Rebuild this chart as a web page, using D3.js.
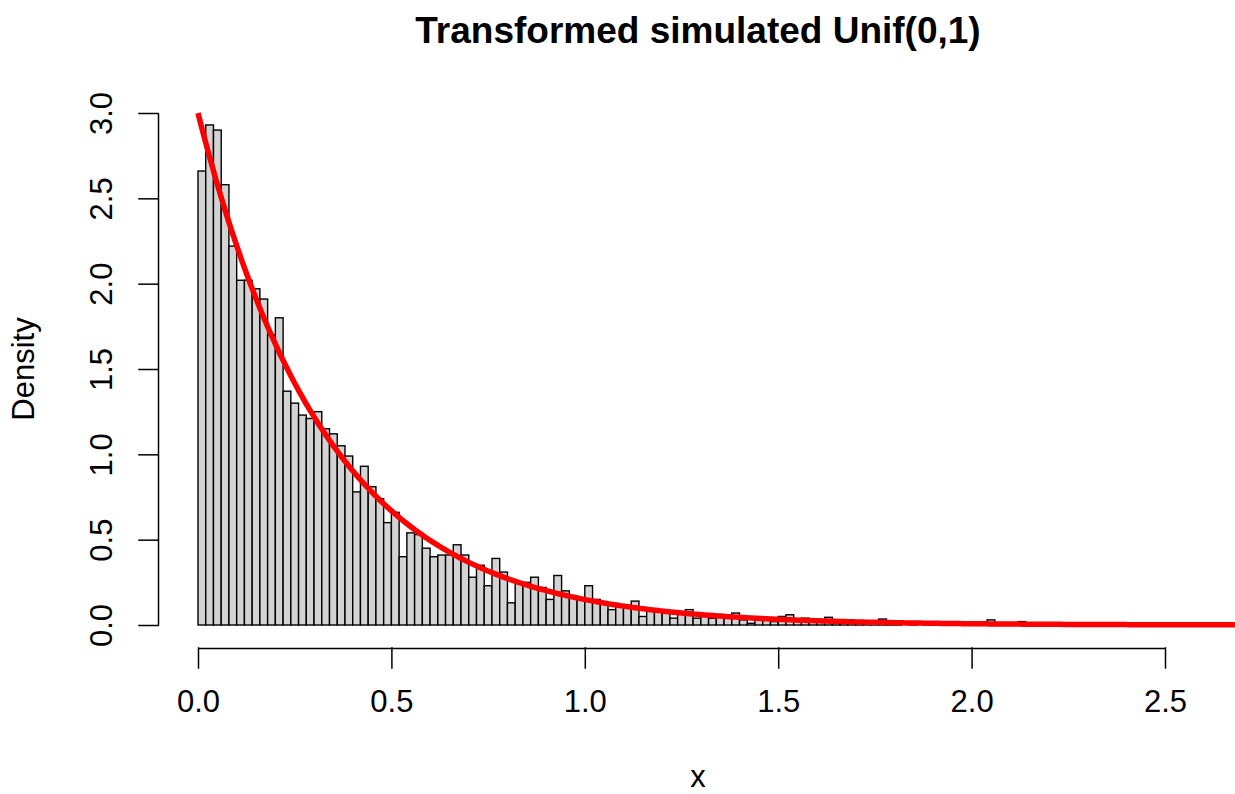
<!DOCTYPE html>
<html>
<head>
<meta charset="utf-8">
<script src="https://cdn.jsdelivr.net/npm/d3@7"></script>
<style>
  html, body { margin: 0; padding: 0; background: #fff; }
  svg { display: block; font-family: "Liberation Sans", Arial, Helvetica, sans-serif; }
</style>
</head>
<body>
<div id="chart"></div>
<script>
// ── Histogram of transformed Unif(0,1) draws with Exp(3) density ──

const binWidth = 0.02
// density of each 0.02-wide bin, starting at 0
const densities = [
  2.66, 2.93, 2.90, 2.58, 2.22, 2.02, 2.02, 1.97, 1.91, 1.70,
  1.80, 1.37, 1.30, 1.23, 1.21, 1.25, 1.15, 1.12, 1.05, 0.99,
  0.78, 0.93, 0.81, 0.74, 0.60, 0.66, 0.40, 0.54, 0.53, 0.45,
  0.40, 0.41, 0.41, 0.47, 0.41, 0.28, 0.35, 0.23, 0.39, 0.31,
  0.13, 0.25, 0.25, 0.28, 0.22, 0.15, 0.29, 0.20, 0.17, 0.15,
  0.23, 0.15, 0.13, 0.09, 0.11, 0.10, 0.14, 0.05, 0.08, 0.08,
  0.07, 0.04, 0.07, 0.09, 0.04, 0.05, 0.04, 0.05, 0.04, 0.07,
  0.03, 0.01, 0.03, 0.03, 0.02, 0.05, 0.06, 0.03, 0.04, 0.02,
  0.03, 0.045, 0.02, 0.01, 0.02, 0.01, 0.01, 0.02, 0.035, 0.01,
  0.01, 0, 0.01, 0, 0.01, 0, 0.01, 0, 0, 0.01,
  0, 0, 0.03, 0, 0, 0, 0.02, 0
]
const rate = 3              // overlaid curve: dexp(x, rate)
const xTicks = [0, 0.5, 1, 1.5, 2, 2.5]
const yTicks = [0, 0.5, 1, 1.5, 2, 2.5, 3]
const title = 'Transformed simulated Unif(0,1)'
const xLabel = 'x'
const yLabel = 'Density'

const width = 1235, height = 794
const plotLeft = 158, plotRight = 1238

const svg = d3.select('#chart')
  .append('svg')
  .attr('width', width)
  .attr('height', height)

svg.append('rect').attr('width', width).attr('height', height).attr('fill', '#fff')

const x = d3.scaleLinear().domain([0, 2.5]).range([198, 1165])
const y = d3.scaleLinear().domain([0, 3]).range([625, 113])

// bars
const bins = densities.map((d, i) => ({ x0: i * binWidth, x1: (i + 1) * binWidth, d }))
svg.append('g')
  .selectAll('rect')
  .data(bins)
  .join('rect')
  .attr('x', b => x(b.x0))
  .attr('width', b => x(b.x1) - x(b.x0))
  .attr('y', b => y(b.d))
  .attr('height', b => y(0) - y(b.d))
  .attr('fill', '#d3d3d3')
  .attr('stroke', '#000')
  .attr('stroke-width', 1.4)

// density curve, clipped to the plot region
svg.append('clipPath').attr('id', 'plotClip')
  .append('rect')
  .attr('x', plotLeft).attr('y', 0)
  .attr('width', plotRight - plotLeft).attr('height', 660)

const xMax = x.invert(plotRight)
const curvePts = d3.range(0, 401).map(i => {
  const xv = xMax * i / 400
  return [xv, rate * Math.exp(-rate * xv)]
})
svg.append('path')
  .datum(curvePts)
  .attr('clip-path', 'url(#plotClip)')
  .attr('fill', 'none')
  .attr('stroke', '#ff0000')
  .attr('stroke-width', 5.5)
  .attr('stroke-linejoin', 'round')
  .attr('d', d3.line().x(p => x(p[0])).y(p => y(p[1])))

// axes
const fmt = d3.format('.1f')
const xAxis = svg.append('g')
  .attr('transform', 'translate(0,648)')
  .call(d3.axisBottom(x).tickValues(xTicks).tickFormat(fmt).tickSize(20).tickSizeOuter(0).tickPadding(22))
xAxis.selectAll('text').attr('font-size', 31).attr('fill', '#000').attr('font-family', null)

const yAxis = svg.append('g')
  .attr('transform', `translate(${plotLeft},0)`)
  .call(d3.axisLeft(y).tickValues(yTicks).tickFormat(fmt).tickSize(19).tickSizeOuter(0))
yAxis.selectAll('text')
  .attr('x', null)
  .attr('dy', null)
  .attr('text-anchor', 'middle')
  .attr('transform', 'translate(-46,0) rotate(-90)')
  .attr('font-size', 31)
  .attr('fill', '#000')
  .attr('font-family', null)

svg.selectAll('.domain, .tick line').attr('stroke', '#000').attr('stroke-width', 1.5)
svg.selectAll('.tick line').attr('stroke-linecap', 'square')

// labels
svg.append('text')
  .attr('x', (plotLeft + plotRight) / 2)
  .attr('y', 43)
  .attr('text-anchor', 'middle')
  .attr('font-size', 37)
  .attr('font-weight', 'bold')
  .text(title)

svg.append('text')
  .attr('x', (plotLeft + plotRight) / 2)
  .attr('y', 787)
  .attr('text-anchor', 'middle')
  .attr('font-size', 31)
  .text(xLabel)

svg.append('text')
  .attr('transform', `translate(34,${(y(0) + y(3)) / 2}) rotate(-90)`)
  .attr('text-anchor', 'middle')
  .attr('font-size', 31)
  .text(yLabel)
</script>
</body>
</html>
